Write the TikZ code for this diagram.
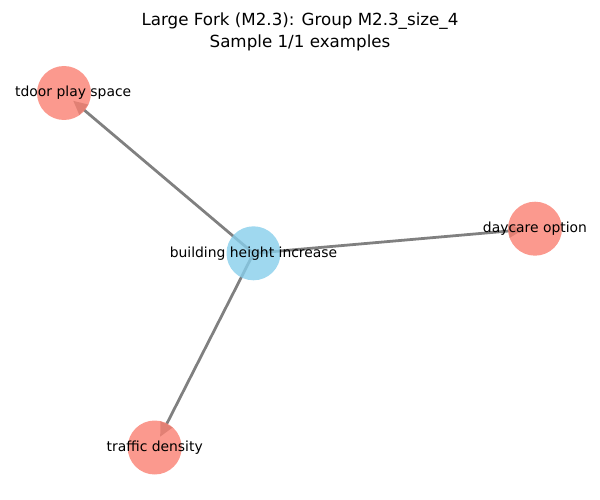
\documentclass[tikz,border=0pt]{standalone}
\usepackage{fontspec}
\setmainfont{DejaVu Sans}
\usetikzlibrary{arrows.meta,backgrounds}
\definecolor{salmonc}{RGB}{250,128,114}
\definecolor{skyc}{RGB}{135,206,235}
\definecolor{edgec}{RGB}{128,128,128}
\tikzset{
  vert/.style={circle,minimum size=54pt,inner sep=0pt,draw=none,fill opacity=0.8},
  redv/.style={vert,fill=salmonc},
  bluev/.style={vert,fill=skyc},
  lbl/.style={inner sep=0pt,font=\fontsize{13.9}{16}\selectfont,text=black},
  edge/.style={draw=edgec,line width=2.78pt,-{Triangle[length=14pt,width=13pt]},shorten >=12pt},
  ttl/.style={inner sep=0pt,font=\fontsize{16.7}{22}\selectfont,align=center}
}
\begin{document}
\begin{tikzpicture}[x=1pt,y=-1pt]
\useasboundingbox (0,0) rectangle (600,500);
\node[bluev] (c) at (253.5,253.3) {};
\node[redv] (o) at (64,93) {};
\node[redv] (d) at (535,228.7) {};
\node[redv] (t) at (154.7,447.5) {};
\begin{pgfonlayer}{background}
\draw[edge] (c.center) -- (o.center);
\draw[edge] (c.center) -- (d.center);
\draw[edge] (c.center) -- (t.center);
\end{pgfonlayer}
\node[lbl] (lc) at (c.center) {building height increase};
\node[lbl,anchor=west] (lo) at (15,93) {tdoor play space};
\node[lbl] (ld) at (d.center) {daycare option};
\node[lbl] (lt) at (t.center) {traffic density};
\node[ttl] (title) at (300,32) {Large Fork (M2.3): Group M2.3\_size\_4\\Sample 1/1 examples};
\end{tikzpicture}
\end{document}
